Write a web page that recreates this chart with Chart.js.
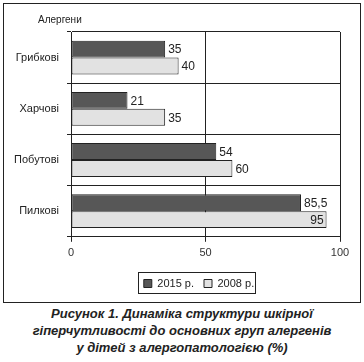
<!DOCTYPE html>
<html>
<head>
<meta charset="utf-8">
<script src="https://cdn.jsdelivr.net/npm/chart.js@4"></script>
<style>
  body { margin: 0; background: #fff; font-family: "Liberation Sans", Arial, sans-serif; }
  .frame { position: absolute; left: 3px; top: 3px; width: 356px; height: 298px; border: 1px solid #222; }
  .caption { position: absolute; left: 0; top: 305px; width: 364px; text-align: center;
    font-weight: bold; font-style: italic; font-size: 13px; line-height: 17px; color: #222; }
</style>
</head>
<body>
<div class="frame"><canvas id="barChart" width="356" height="298"></canvas></div>
<div class="caption">Рисунок 1. Динаміка структури шкірної<br>гіперчутливості до основних груп алергенів<br>у дітей з алергопатологією (%)</div>
<script>
const categories = ["Грибкові", "Харчові", "Побутові", "Пилкові"];
const values2015 = [35, 21, 54, 85.5];
const values2008 = [40, 35, 60, 95];
const xTicks = [0, 50, 100];

// value labels at the end of each bar
const valueLabels = {
  id: "valueLabels",
  afterDatasetsDraw(chart) {
    const ctx = chart.ctx;
    ctx.save();
    ctx.font = "12px 'Liberation Sans', Arial, sans-serif";
    ctx.fillStyle = "#222";
    ctx.textBaseline = "middle";
    chart.data.datasets.forEach((ds, i) => {
      chart.getDatasetMeta(i).data.forEach((bar, j) => {
        const txt = String(ds.data[j]).replace(".", ",");
        const w = ctx.measureText(txt).width;
        if (bar.x + 3 + w > chart.chartArea.right) {
          ctx.textAlign = "right";
          ctx.fillText(txt, bar.x - 3, bar.y + 1);
        } else {
          ctx.textAlign = "left";
          ctx.fillText(txt, bar.x + 3, bar.y + 1);
        }
      });
    });
    ctx.restore();
  }
};

// axis caption, legend shift and legend frame
const extras = {
  id: "extras",
  afterLayout(chart) {
    const lg = chart.legend;
    const dx = 27;
    lg.left += dx;
    lg.right += dx;
    (lg.legendHitBoxes || []).forEach(b => { b.left += dx; });
  },
  afterDraw(chart) {
    const ctx = chart.ctx;
    ctx.save();
    ctx.font = "10px 'Liberation Sans', Arial, sans-serif";
    ctx.fillStyle = "#222";
    ctx.textBaseline = "middle";
    ctx.fillText("Алергени", 34, 16);
    const boxes = chart.legend.legendHitBoxes;
    if (boxes && boxes.length) {
      const l = Math.min(...boxes.map(b => b.left)) - 6;
      const r = Math.max(...boxes.map(b => b.left + b.width)) + 1;
      const t = Math.min(...boxes.map(b => b.top)) - 6;
      const btm = Math.max(...boxes.map(b => b.top + b.height)) + 4;
      ctx.strokeStyle = "#222";
      ctx.lineWidth = 1;
      ctx.strokeRect(Math.round(l) + 0.5, Math.round(t) + 0.5, Math.round(r - l), Math.round(btm - t));
    }
    ctx.restore();
  }
};

new Chart(document.getElementById("barChart"), {
  type: "bar",
  data: {
    labels: categories,
    datasets: [
      { label: "2015 р.", data: values2015, backgroundColor: "#575757", borderColor: "#222", borderWidth: 1, borderSkipped: false },
      { label: "2008 р.", data: values2008, backgroundColor: "#e2e2e2", borderColor: "#222", borderWidth: 1, borderSkipped: false }
    ]
  },
  options: {
    indexAxis: "y",
    responsive: false,
    animation: false,
    events: [],
    layout: { padding: { left: 0, right: 20, top: 28, bottom: 3 } },
    datasets: { bar: { categoryPercentage: 0.66, barPercentage: 1 } },
    scales: {
      x: {
        min: 0, max: 100,
        afterBuildTicks(axis) { axis.ticks = xTicks.map(v => ({ value: v })); },
        afterFit(axis) { axis.height += 3; },
        grid: { color: "#222", lineWidth: 1, tickLength: 5 },
        border: { color: "#222" },
        ticks: { color: "#333", font: { size: 11, family: "'Liberation Sans', Arial, sans-serif" }, padding: 5 }
      },
      y: {
        afterFit(axis) { axis.width = 67; },
        grid: { color: "#222", lineWidth: 1, tickLength: 4 },
        border: { color: "#222" },
        ticks: { color: "#222", font: { size: 11, family: "'Liberation Sans', Arial, sans-serif" }, padding: 8 }
      }
    },
    plugins: {
      tooltip: { enabled: false },
      legend: {
        position: "bottom",
        labels: {
          color: "#222",
          boxWidth: 8, boxHeight: 8,
          padding: 10,
          font: { size: 11, family: "'Liberation Sans', Arial, sans-serif" }
        }
      }
    }
  },
  plugins: [valueLabels, extras]
});
</script>
</body>
</html>
